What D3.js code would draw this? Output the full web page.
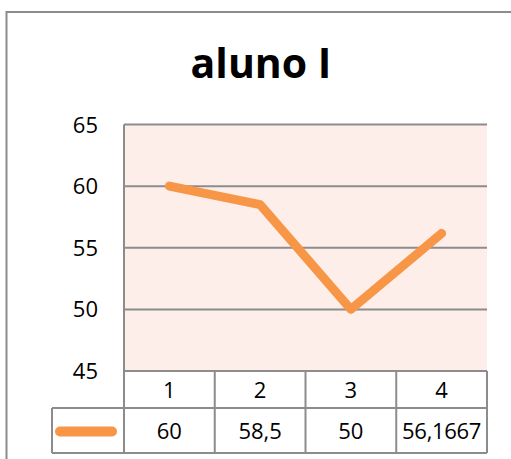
<!DOCTYPE html>
<html>
<head>
<meta charset="utf-8">
<script src="https://cdn.jsdelivr.net/npm/d3@7"></script>
<style>
  html, body { margin: 0; padding: 0; background: #fff; }
  svg { display: block; }
  text { font-family: "Open Sans", "Noto Sans", sans-serif; fill: #000; }
</style>
</head>
<body>
<div id="chart"></div>
<script>
// Scores for the student, one per assessment
const categories = ["1", "2", "3", "4"];
const scores = [60, 58.5, 50, 56.1667];
const scoreLabels = ["60", "58,5", "50", "56,1667"];
const yTicks = [45, 50, 55, 60, 65];
const title = "aluno I";

const W = 511, H = 459;
const plot = { left: 124, right: 487, top: 124.5, bottom: 371 };
const rowCat = 37, rowVal = 45;
const tableLeft = 52;
const grid = "#8c8c8c";
const orange = "#F79646";
const fs = 22;

const svg = d3.select("#chart").append("svg")
  .attr("width", W).attr("height", H);

// outer chart frame (extends past the window on right/bottom)
svg.append("rect")
  .attr("x", 6.5).attr("y", 12).attr("width", 520).attr("height", 470)
  .attr("fill", "#fff").attr("stroke", grid).attr("stroke-width", 2);

svg.append("text")
  .attr("x", 261).attr("y", 78)
  .attr("text-anchor", "middle")
  .attr("font-size", 41).attr("font-weight", "bold")
  .text(title);

const x = d3.scaleBand().domain(categories).range([plot.left, plot.right]);
const y = d3.scaleLinear().domain([45, 65]).range([plot.bottom, plot.top]);

// plot background
svg.append("rect")
  .attr("x", plot.left).attr("y", plot.top)
  .attr("width", plot.right - plot.left).attr("height", plot.bottom - plot.top)
  .attr("fill", "#FDEEE9");

// horizontal gridlines
svg.append("g").selectAll("line").data(yTicks).join("line")
  .attr("x1", plot.left).attr("x2", plot.right)
  .attr("y1", d => y(d)).attr("y2", d => y(d))
  .attr("stroke", grid).attr("stroke-width", 2);

// left axis line
svg.append("line")
  .attr("x1", plot.left).attr("x2", plot.left)
  .attr("y1", plot.top).attr("y2", plot.bottom + rowCat + rowVal)
  .attr("stroke", grid).attr("stroke-width", 2);

// y tick labels
svg.append("g").selectAll("text").data(yTicks).join("text")
  .attr("x", 98).attr("y", d => y(d) + 8)
  .attr("text-anchor", "end")
  .attr("font-size", fs)
  .text(d => d);

// data table: category row and value row
const tbl = svg.append("g").attr("fill", "none").attr("stroke", grid).attr("stroke-width", 2);
const rowsTop = plot.bottom, valTop = plot.bottom + rowCat, tblBottom = valTop + rowVal;
tbl.append("line").attr("x1", plot.left).attr("x2", plot.right).attr("y1", rowsTop).attr("y2", rowsTop);
tbl.append("line").attr("x1", tableLeft).attr("x2", plot.right).attr("y1", valTop).attr("y2", valTop);
tbl.append("line").attr("x1", tableLeft).attr("x2", plot.right).attr("y1", tblBottom).attr("y2", tblBottom);
tbl.append("line").attr("x1", tableLeft).attr("x2", tableLeft).attr("y1", valTop).attr("y2", tblBottom);
tbl.selectAll("line.v").data(categories).join("line").attr("class", "v")
  .attr("x1", d => x(d) + x.bandwidth()).attr("x2", d => x(d) + x.bandwidth())
  .attr("y1", rowsTop).attr("y2", tblBottom);

svg.append("g").selectAll("text").data(categories).join("text")
  .attr("x", d => x(d) + x.bandwidth() / 2).attr("y", rowsTop + rowCat / 2 + 8)
  .attr("text-anchor", "middle").attr("font-size", fs)
  .text(d => d);

svg.append("g").selectAll("text").data(scoreLabels).join("text")
  .attr("x", (d, i) => x(categories[i]) + x.bandwidth() / 2).attr("y", valTop + rowVal / 2 + 8)
  .attr("text-anchor", "middle").attr("font-size", fs)
  .attr("letter-spacing", (d, i) => i === 3 ? -0.3 : 0)
  .text(d => d);

// legend key in the table
svg.append("line")
  .attr("x1", 60).attr("x2", 112)
  .attr("y1", valTop + rowVal / 2 + 1).attr("y2", valTop + rowVal / 2 + 1)
  .attr("stroke", orange).attr("stroke-width", 10).attr("stroke-linecap", "round");

// series line
const line = d3.line()
  .x((d, i) => x(categories[i]) + x.bandwidth() / 2)
  .y(d => y(d));
svg.append("path")
  .datum(scores)
  .attr("d", line)
  .attr("fill", "none")
  .attr("stroke", orange).attr("stroke-width", 9)
  .attr("stroke-linecap", "round").attr("stroke-linejoin", "round");
</script>
</body>
</html>
